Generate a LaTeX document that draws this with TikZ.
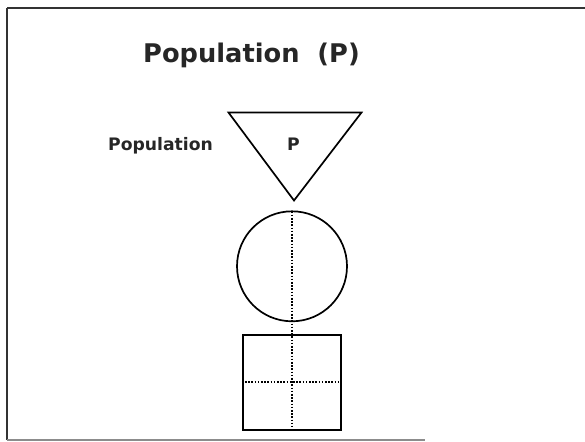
\documentclass[tikz,border=0pt]{standalone}
\usepackage{fontspec}
\setmainfont{DejaVu Sans}
\begin{document}
\begin{tikzpicture}[x=1pt,y=-1pt,
  shape line/.style={draw=black,line width=1.7pt},
  dotline/.style={draw=black,line width=1.8pt,dash pattern=on 1.6pt off 1.6pt},
  frame line/.style={draw=black!80,line width=1.2pt},
  title text/.style={font=\fontsize{25.7}{30}\selectfont\bfseries, inner sep=0pt, anchor=base, text=black!85},
  label text/.style={font=\fontsize{17.2}{20}\selectfont\bfseries, inner sep=0pt, anchor=base, text=black!85}]
\useasboundingbox (0,0) rectangle (585,441);
% frame
\coordinate (fTL) at (7,8);
\coordinate (fTR) at (585,8);
\coordinate (fBL) at (7,440);
\coordinate (fBR) at (425,440);
\draw[frame line, line width=2pt] (fTL) -- (fBL);
\draw[frame line] (fTL) -- (fTR);
\draw[frame line, draw=black!45] (fBL) -- (fBR);
% title
\node[title text] (title) at (251.5,63) {Population\ \ (P)};
% triangle
\coordinate (tL) at (228.5,112.5);
\coordinate (tR) at (361.5,112.5);
\coordinate (tB) at (294,200.5);
\draw[shape line, line join=miter] (tL) -- (tR) -- (tB) -- cycle;
\node[label text] (pin) at (293.5,150) {P};
\node[label text] (plabel) at (160.5,150) {Population};
% circle
\node[shape line, circle, minimum size=110pt, inner sep=0pt] (circ) at (292,266.3) {};
% square
\node[shape line, rectangle, minimum width=98pt, minimum height=95pt, inner sep=0pt] (sq) at (291.7,382.5) {};
% dotted lines
\coordinate (vtop) at (292,211.5);
\coordinate (vbot) at (292,427);
\draw[dotline] (vtop) -- (vbot);
\draw[dotline] (sq.west |- 0,382) -- (sq.east |- 0,382);
\end{tikzpicture}
\end{document}
